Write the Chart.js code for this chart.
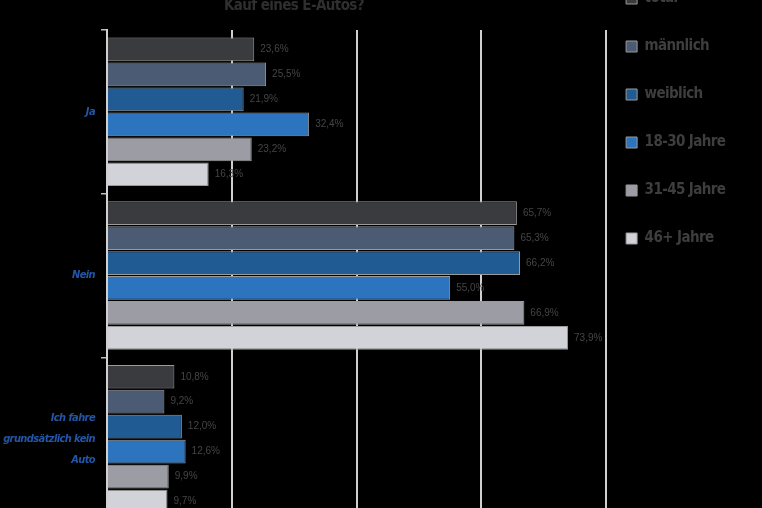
<!DOCTYPE html>
<html><head><meta charset="utf-8">
<script src="https://cdn.jsdelivr.net/npm/chart.js@4.4.1/dist/chart.umd.min.js"></script>
<style>
html,body{margin:0;padding:0;background:#000;overflow:hidden;width:762px;height:508px;}
#wrap{position:absolute;left:0;top:-29px;width:762px;height:570px;}
</style></head><body>
<div id="wrap"><canvas id="c" width="762" height="570"></canvas></div>
<script>
const titleText = 'Kauf eines E-Autos?';
const categories = ['Ja', 'Nein', ['Ich fahre', 'grundsätzlich kein', 'Auto']];
const seriesNames = ['total', 'männlich', 'weiblich', '18-30 Jahre', '31-45 Jahre', '46+ Jahre'];
const totalValues = [23.6, 65.7, 10.8];
const maleValues = [25.5, 65.3, 9.2];
const femaleValues = [21.9, 66.2, 12.0];
const age18to30Values = [32.4, 55.0, 12.6];
const age31to45Values = [23.2, 66.9, 9.9];
const age46plusValues = [16.3, 73.9, 9.7];
const xTicks = [0, 20, 40, 60, 80];

const seriesData = [totalValues, maleValues, femaleValues, age18to30Values, age31to45Values, age46plusValues];
const seriesColors = ['#3a3b3f', '#4b5b74', '#215b94', '#2d74be', '#9b9ca4', '#d2d3d8'];
const NARROW = "'Liberation Sans Narrow', 'DejaVu Sans Condensed', sans-serif";

const titleBoxPlugin = {
  id: 'titleBox',
  beforeInit(chart) {
    const box = {
      position: 'top', fullSize: true, weight: 100, options: {},
      left: 0, top: 0, right: 0, bottom: 0, width: 0, height: 0,
      update(maxWidth) { this.width = maxWidth; this.height = 59; },
      isHorizontal() { return true; },
      draw() {
        const ctx = chart.ctx;
        ctx.save();
        ctx.font = "bold 15px " + NARROW;
        ctx.fillStyle = '#2f2f2f';
        ctx.textAlign = 'center';
        ctx.textBaseline = 'alphabetic';
        ctx.fillText(titleText, 294, this.top + 38.5);
        ctx.restore();
      }
    };
    Chart.layouts.addBox(chart, box);
  }
};

const tightText = {
  id: 'tightText',
  beforeDraw(chart) { chart.ctx.letterSpacing = '-0.6px'; },
  beforeDatasetsDraw(chart) { chart.ctx.letterSpacing = '0px'; }
};

const valueLabels = {
  id: 'valueLabels',
  afterDatasetsDraw(chart) {
    const ctx = chart.ctx;
    ctx.save();
    ctx.font = "10px 'Liberation Sans', sans-serif";
    ctx.fillStyle = '#454545';
    ctx.textAlign = 'left';
    ctx.textBaseline = 'middle';
    chart.data.datasets.forEach((ds, i) => {
      const meta = chart.getDatasetMeta(i);
      meta.data.forEach((el, j) => {
        ctx.fillText(ds.data[j].toFixed(1).replace('.', ',') + '%', el.x + 6, el.y);
      });
    });
    ctx.restore();
  }
};

new Chart(document.getElementById('c'), {
  type: 'bar',
  data: {
    labels: categories,
    datasets: seriesNames.map((n, i) => ({
      label: n,
      data: seriesData[i],
      backgroundColor: seriesColors[i],
      borderColor: '#9a9a9a',
      borderWidth: 1,
      categoryPercentage: 0.915,
      barPercentage: 0.95
    }))
  },
  options: {
    indexAxis: 'y',
    responsive: false,
    animation: false,
    devicePixelRatio: 1,
    layout: { padding: { left: 0, right: 20, top: 0, bottom: 20 } },
    scales: {
      x: {
        min: 0, max: 80, position: 'bottom',
        afterBuildTicks(s) { s.ticks = xTicks.map(v => ({ value: v })); },
        ticks: { display: false },
        grid: { color: '#cfcfcf', lineWidth: 2, drawTicks: false },
        border: { display: false }
      },
      y: {
        afterFit(s) { s.width = 107; },
        ticks: {
          color: '#2356a8', padding: 6,
          font: { family: NARROW, size: 11, weight: 'bold', style: 'italic', lineHeight: 1.95 }
        },
        grid: { drawOnChartArea: false, tickLength: 6, color: '#bdbdbd', lineWidth: 1.5, offset: true },
        border: { display: true, color: '#d0d0d0', width: 2 }
      }
    },
    plugins: {
      title: { display: false },
      tooltip: { enabled: false },
      legend: {
        position: 'right', align: 'start',
        labels: {
          color: '#3e3e3e', boxWidth: 11, boxHeight: 11, padding: 20,
          font: { size: 15, weight: 'bold', family: NARROW, lineHeight: 28 / 15 },
          generateLabels(chart) {
            return Chart.defaults.plugins.legend.labels.generateLabels(chart).map(it => Object.assign({}, it, { text: [it.text] }));
          }
        }
      }
    }
  },
  plugins: [titleBoxPlugin, tightText, valueLabels]
});
</script>
</body></html>
